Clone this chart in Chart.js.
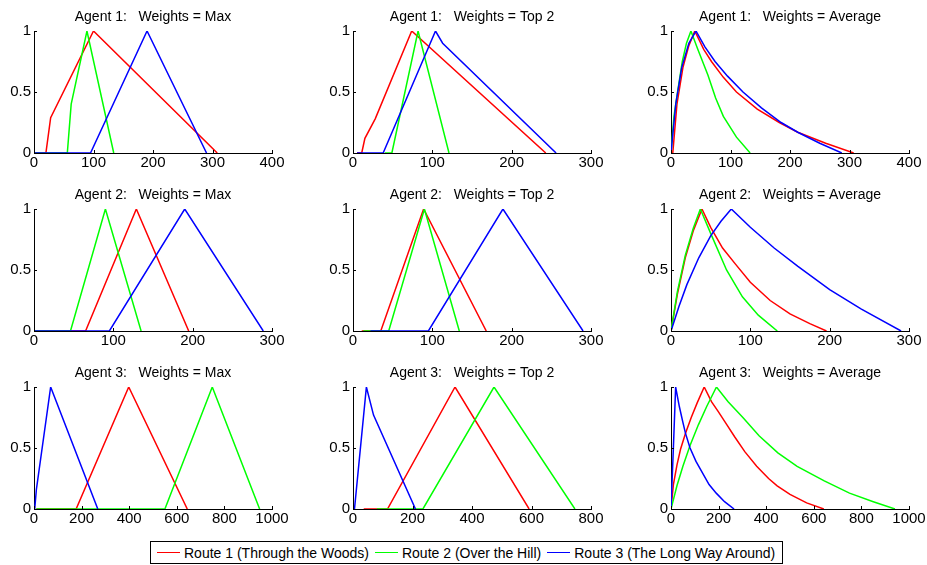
<!DOCTYPE html>
<html>
<head>
<meta charset="utf-8">
<script src="https://cdn.jsdelivr.net/npm/chart.js@4/dist/chart.umd.min.js"></script>
<style>
  html, body { margin: 0; padding: 0; background: #fff; width: 927px; height: 565px; overflow: hidden; }
  canvas.panel { position: absolute; }
  #legend {
    position: absolute; left: 150px; top: 541px; width: 631px; height: 21px;
    border: 1px solid #000; display: flex; align-items: center;
    font: 14px "Liberation Sans", Arial, sans-serif; color: #000; white-space: nowrap;
  }
  #legend .item { display: flex; align-items: center; margin-left: 6px; }
  #legend .swatch { width: 23px; height: 0; border-top: 1.5px solid; margin-right: 4px; }
</style>
</head>
<body>
<div id="legend"></div>
<script>
// ---- data: [x, y] pairs ----
const routes = ['Route 1 (Through the Woods)', 'Route 2 (Over the Hill)', 'Route 3 (The Long Way Around)'];
const routeColors = ['#ff0000', '#00ff00', '#0000ff'];

const agents = ['Agent 1', 'Agent 2', 'Agent 3'];
const weightings = ['Max', 'Top 2', 'Average'];

const xMaxes = [400, 300, 400, 300, 300, 300, 1000, 800, 1000];
const xSteps = [100, 100, 100, 100, 100, 100, 200, 200, 200];
const yTicks = [0, 0.5, 1];

// Agent 1
const a1MaxR1 = [[0,0],[20,0],[28,0.29],[100,1],[308,0]];
const a1MaxR2 = [[0,0],[56,0],[62.5,0.4],[89,1],[134,0]];
const a1MaxR3 = [[0,0],[95,0],[190,1],[290,0]];

const a1Top2R1 = [[5,0],[11,0],[15,0.12],[28,0.28],[74,1],[243,0]];
const a1Top2R2 = [[40,0],[49,0],[82,1],[121,0]];
const a1Top2R3 = [[5,0],[38,0],[104,1],[113,0.9],[256,0]];

const a1AvgR1 = [[3,0],[10,0.4],[20,0.7],[30,0.88],[40,1],[55,0.85],[68,0.75],[88,0.62],[110,0.5],[145,0.36],[182,0.25],[213,0.17],[260,0.08],[307,0]];
const a1AvgR2 = [[0,0],[5,0.3],[11,0.5],[19,0.75],[26,0.9],[33.5,1],[45,0.85],[62,0.64],[75,0.45],[88,0.3],[110,0.13],[133,0]];
const a1AvgR3 = [[0,0],[8,0.4],[18,0.7],[30,0.9],[42,1],[57,0.87],[74,0.75],[95,0.63],[121,0.5],[152,0.37],[185,0.25],[213,0.17],[250,0.08],[287,0]];

// Agent 2
const a2MaxR1 = [[0,0],[65,0],[129,1],[195,0]];
const a2MaxR2 = [[0,0],[46,0],[90,1],[135,0]];
const a2MaxR3 = [[0,0],[95,0],[190,1],[289,0]];

const a2Top2R1 = [[11,0],[35,0],[89,1],[168,0]];
const a2Top2R2 = [[13,0],[45,0],[90,1],[134,0]];
const a2Top2R3 = [[22,0],[95,0],[189,1],[290,0]];

const a2AvgR1 = [[0,0],[8,0.3],[18,0.6],[28,0.82],[39,1],[50,0.85],[65,0.68],[81,0.55],[100,0.4],[125,0.25],[150,0.14],[175,0.06],[196,0]];
const a2AvgR2 = [[0,0],[8,0.32],[18,0.62],[28,0.84],[37,1],[50,0.8],[70,0.5],[90,0.28],[110,0.13],[134,0]];
const a2AvgR3 = [[0,0],[10,0.2],[20,0.38],[35,0.6],[50,0.78],[63,0.9],[76,1],[100,0.85],[130,0.68],[160,0.53],[200,0.34],[240,0.18],[290,0]];

// Agent 3
const a3MaxR1 = [[10,0],[177,0],[398,1],[644,0]];
const a3MaxR2 = [[10,0],[550,0],[749,1],[948,0]];
const a3MaxR3 = [[3,0],[10,0.16],[70,1],[268,0]];

const a3Top2R1 = [[36,0],[116,0],[343,1],[592,0]];
const a3Top2R2 = [[80,0],[235,0],[474,1],[746,0]];
const a3Top2R3 = [[5,0],[45,1],[69,0.77],[210,0]];

const a3AvgR1 = [[0,0],[10,0.2],[25,0.36],[40,0.49],[61,0.62],[85,0.75],[110,0.87],[139.5,1],[170,0.88],[198,0.8],[235,0.69],[268,0.59],[310,0.47],[360,0.35],[410,0.25],[446,0.19],[500,0.12],[570,0.05],[642,0]];
const a3AvgR2 = [[0,0],[25,0.19],[50,0.35],[80,0.52],[115,0.69],[150,0.84],[191,1],[240,0.88],[302,0.75],[370,0.6],[449,0.46],[530,0.35],[644,0.23],[750,0.13],[850,0.06],[941,0]];
const a3AvgR3 = [[0,0],[10,0.5],[19.5,1],[35,0.84],[50,0.71],[61,0.62],[80,0.5],[105,0.39],[131,0.3],[160,0.2],[190,0.13],[225,0.06],[265,0]];

const panelSeries = [
  [a1MaxR1, a1MaxR2, a1MaxR3], [a1Top2R1, a1Top2R2, a1Top2R3], [a1AvgR1, a1AvgR2, a1AvgR3],
  [a2MaxR1, a2MaxR2, a2MaxR3], [a2Top2R1, a2Top2R2, a2Top2R3], [a2AvgR1, a2AvgR2, a2AvgR3],
  [a3MaxR1, a3MaxR2, a3MaxR3], [a3Top2R1, a3Top2R2, a3Top2R3], [a3AvgR1, a3AvgR2, a3AvgR3]
];

// ---- layout ----
const colLefts = [34, 353, 671];
const rowTops = [31, 209, 387];
const plotW = 238, plotH = 122;
const padL = 40, padT = 30, padR = 25, padB = 25;
const FONT = '"Liberation Sans", Arial, sans-serif';

// MATLAB-style title and inward tick marks
const matlabAxes = {
  id: 'matlabAxes',
  afterDraw(chart, args, opts) {
    const { ctx, chartArea: a, scales } = chart;
    ctx.save();
    ctx.strokeStyle = '#000';
    ctx.lineWidth = 1;
    ctx.beginPath();
    scales.x.ticks.forEach(t => {
      const px = Math.round(scales.x.getPixelForValue(t.value)) + 0.5;
      ctx.moveTo(px, a.bottom);
      ctx.lineTo(px, a.bottom - 3);
    });
    scales.y.ticks.forEach(t => {
      const py = Math.round(scales.y.getPixelForValue(t.value)) + 0.5;
      ctx.moveTo(a.left, py);
      ctx.lineTo(a.left + 3, py);
    });
    ctx.stroke();
    ctx.fillStyle = '#000';
    ctx.font = '14px ' + FONT;
    ctx.textAlign = 'center';
    ctx.textBaseline = 'alphabetic';
    ctx.fillText(opts.text, (a.left + a.right) / 2, a.top - 10);
    ctx.restore();
  }
};

panelSeries.forEach((series, i) => {
  const row = Math.floor(i / 3), col = i % 3;
  const canvas = document.createElement('canvas');
  canvas.className = 'panel';
  const w = plotW + padL + padR, h = plotH + padT + padB;
  canvas.width = w; canvas.height = h;
  canvas.style.width = w + 'px'; canvas.style.height = h + 'px';
  canvas.style.left = (colLefts[col] - padL) + 'px';
  canvas.style.top = (rowTops[row] - padT) + 'px';
  document.body.appendChild(canvas);

  new Chart(canvas, {
    type: 'line',
    data: {
      datasets: series.map((pts, r) => ({
        label: routes[r],
        data: pts.map(p => ({ x: p[0], y: p[1] })),
        borderColor: routeColors[r],
        borderWidth: 1.5,
        pointRadius: 0,
        tension: 0,
        fill: false,
        order: 2 - r
      }))
    },
    options: {
      responsive: false,
      animation: false,
      events: [],
      layout: { padding: { left: 0, top: padT, right: padR, bottom: 0 } },
      plugins: {
        legend: { display: false },
        tooltip: { enabled: false },
        matlabAxes: { text: agents[row] + ':   Weights = ' + weightings[col] }
      },
      scales: {
        x: {
          type: 'linear',
          min: 0, max: xMaxes[i],
          grid: { display: false, drawTicks: false },
          border: { display: true, color: '#000', width: 1 },
          ticks: {
            stepSize: xSteps[i], autoSkip: false, maxRotation: 0,
            padding: 1, color: '#000', font: { family: FONT, size: 15 },
            callback: v => String(v)
          },
          afterFit: s => { s.height = padB; }
        },
        y: {
          type: 'linear',
          min: 0, max: 1,
          grid: { display: false, drawTicks: false },
          border: { display: true, color: '#000', width: 1 },
          afterBuildTicks: s => { s.ticks = yTicks.map(v => ({ value: v })); },
          ticks: {
            autoSkip: false, padding: 3, color: '#000',
            font: { family: FONT, size: 15 },
            callback: v => String(v)
          },
          afterFit: s => { s.width = padL; }
        }
      }
    },
    plugins: [matlabAxes]
  });
});

// legend
const legend = document.getElementById('legend');
routes.forEach((name, r) => {
  const item = document.createElement('div');
  item.className = 'item';
  const sw = document.createElement('span');
  sw.className = 'swatch';
  sw.style.borderTopColor = routeColors[r];
  const txt = document.createElement('span');
  txt.textContent = name;
  item.appendChild(sw); item.appendChild(txt);
  legend.appendChild(item);
});
</script>
</body>
</html>
